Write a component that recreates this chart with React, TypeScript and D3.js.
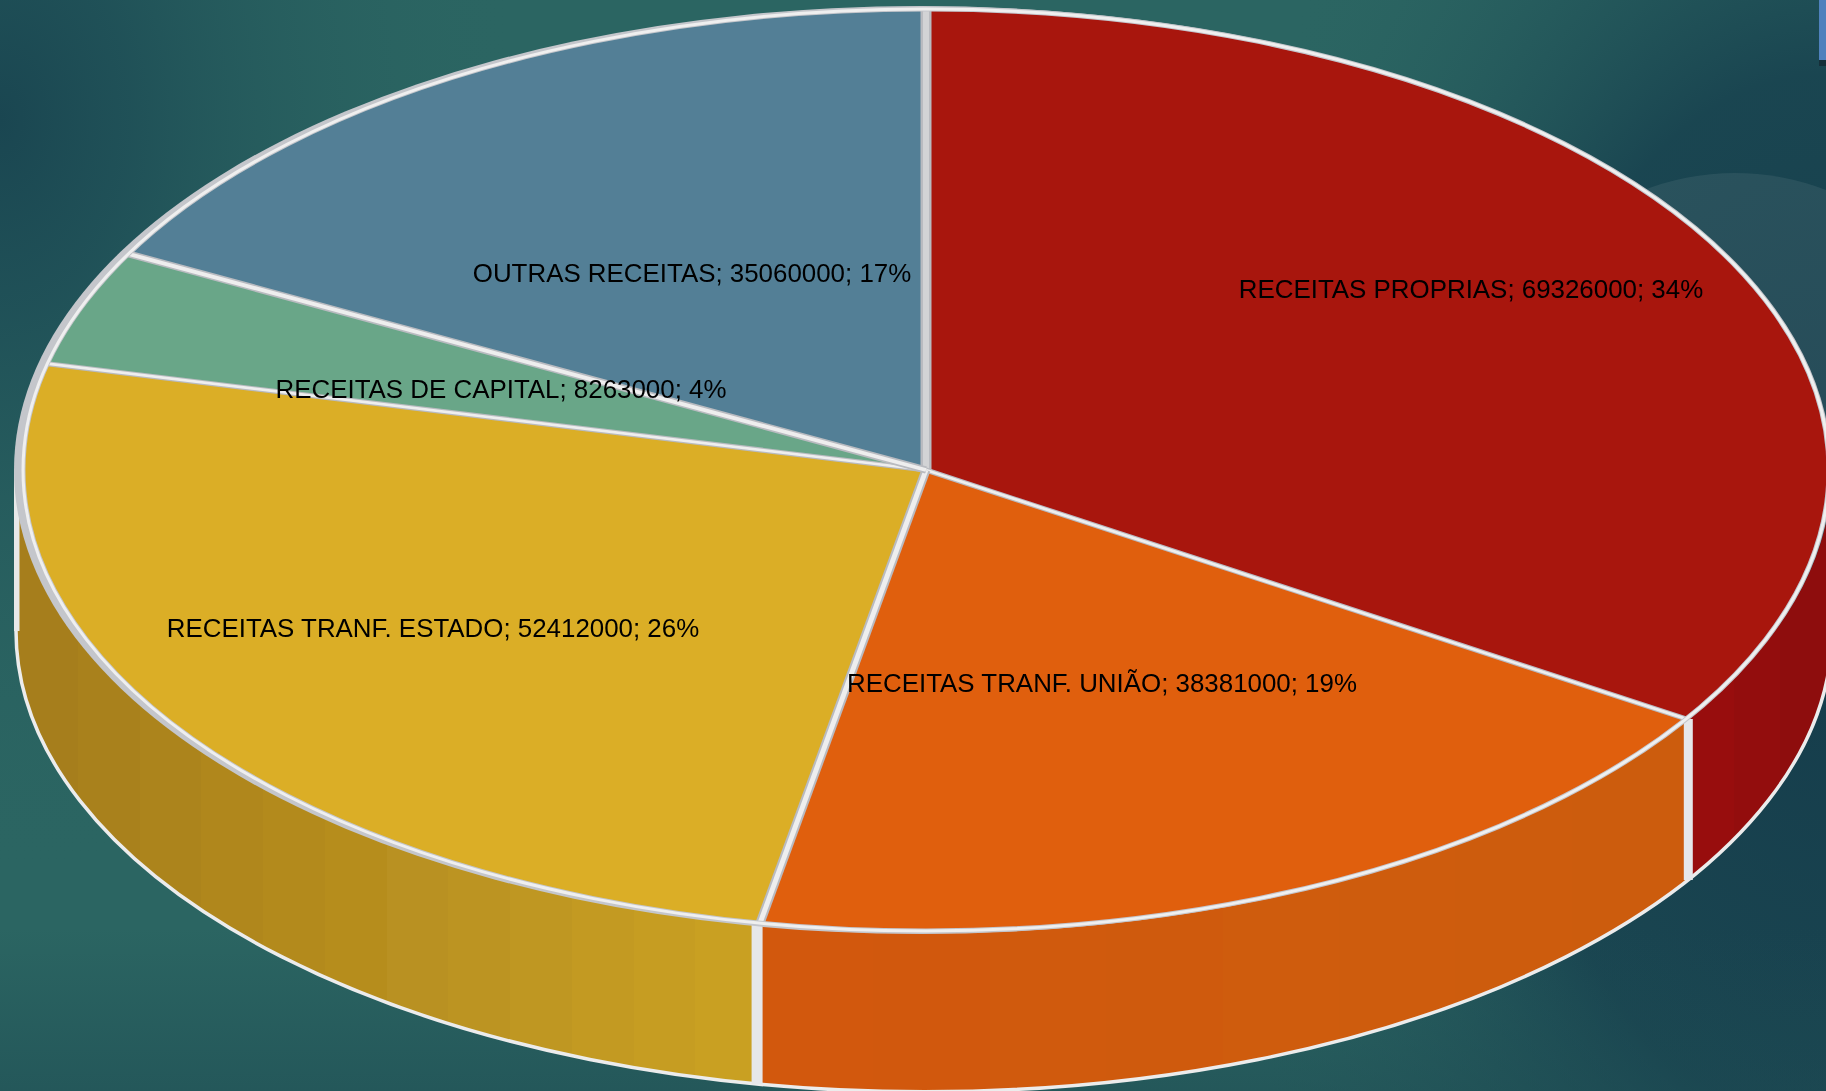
import React from "react";
import * as d3 from "d3";

const categories = [
  "RECEITAS PROPRIAS",
  "RECEITAS TRANF. UNIÃO",
  "RECEITAS TRANF. ESTADO",
  "RECEITAS DE CAPITAL",
  "OUTRAS RECEITAS",
];
const values = [69326000, 38381000, 52412000, 8263000, 35060000];
const percents = [34, 19, 26, 4, 17];
const topColors = ["#a8120f", "#e05e10", "#dbae26", "#69a688", "#527f96"];
const wallColors = [
  ["#98100f", "#8e0e0e"],
  ["#d2590c", "#cc5c0f"],
  ["#a67e1b", "#c9a024"],
];
const wallBands = [3, 8, 12];

const width = 1826;
const height = 1091;

// top face ellipse
const cx = 926;
const cy = 470;
const rx = 903;
const ry = 461;
// the side walls sit on a slightly wider ellipse than the top face
const wallCx = 924;
const wallRx = 908;
const depth = 161;

// label centers and border widths, same order as categories
const labelX = [1471, 1102, 433, 501, 692];
const labelY = [289, 683, 628, 389, 273];
const borderW = [11, 5, 9, 5, 7];

const pieLayout = d3
  .pie<number>()
  .sort(null)
  .startAngle(0)
  .endAngle(2 * Math.PI);

const px = (a: number) => cx + rx * Math.sin(a);
const py = (a: number) => cy - ry * Math.cos(a);
const wx = (a: number) => wallCx + wallRx * Math.sin(a);
const wy = (a: number, dy = 0) => cy - ry * Math.cos(a) + dy;

function wallPath(a0: number, a1: number) {
  const large = a1 - a0 > Math.PI ? 1 : 0;
  return (
    `M${wx(a0)},${wy(a0)}A${wallRx},${ry} 0 ${large} 1 ${wx(a1)},${wy(a1)}` +
    `L${wx(a1)},${wy(a1, depth)}A${wallRx},${ry} 0 ${large} 0 ${wx(a0)},${wy(a0, depth)}Z`
  );
}

function wallEdge(a0: number, a1: number) {
  return `M${wx(a0)},${wy(a0, depth)}A${wallRx},${ry} 0 0 1 ${wx(a1)},${wy(a1, depth)}`;
}

// hard-edged stops, the walls are shaded in visible vertical bands
function bandStops(c0: string, c1: string, n: number) {
  const color = d3.interpolateRgb(c0, c1);
  return d3.range(n).flatMap((k) => [
    <stop key={`${k}a`} offset={k / n} stopColor={color(k / (n - 1))} />,
    <stop key={`${k}b`} offset={(k + 1) / n} stopColor={color(k / (n - 1))} />,
  ]);
}

export default function App() {
  const slices = pieLayout(values);

  const arc = d3
    .arc<d3.PieArcDatum<number>>()
    .innerRadius(0)
    .outerRadius(rx);

  // only the front half of the rim shows a wall
  const front0 = Math.PI / 2;
  const front1 = (3 * Math.PI) / 2;
  const walls = slices
    .map((s, i) => ({
      i,
      a0: Math.max(s.startAngle, front0),
      a1: Math.min(s.endAngle, front1),
    }))
    .filter((w) => w.a1 > w.a0);

  return (
    <svg
      width={width}
      height={height}
      viewBox={`0 0 ${width} ${height}`}
      style={{ position: "absolute", left: 0, top: 0, display: "block" }}
    >
      <defs>
        <radialGradient id="bgLeft" gradientUnits="userSpaceOnUse" cx="0" cy="0" r="1"
          gradientTransform="translate(0,120) scale(520,760)">
          <stop offset="0" stopColor="#1a4651" />
          <stop offset="0.25" stopColor="#1d4c55" stopOpacity="0.8" />
          <stop offset="1" stopColor="#2b6562" stopOpacity="0" />
        </radialGradient>
        <radialGradient id="bgRight" gradientUnits="userSpaceOnUse" cx="0" cy="0" r="1"
          gradientTransform="translate(1826,600) scale(640,1050)">
          <stop offset="0" stopColor="#153c4b" />
          <stop offset="0.5" stopColor="#18424f" stopOpacity="0.9" />
          <stop offset="1" stopColor="#2b6562" stopOpacity="0" />
        </radialGradient>
        <linearGradient id="bgBottom" x1="0" y1="0" x2="0" y2="1">
          <stop offset="0.85" stopColor="#1d4a52" stopOpacity="0" />
          <stop offset="1" stopColor="#1d4a52" stopOpacity="0.5" />
        </linearGradient>
        <linearGradient id="wall0" gradientUnits="userSpaceOnUse" x1="1688" x2="1826" y1="0" y2="0">
          {bandStops(wallColors[0][0], wallColors[0][1], wallBands[0])}
        </linearGradient>
        <linearGradient id="wall1" gradientUnits="userSpaceOnUse" x1="757" x2="1688" y1="0" y2="0">
          {bandStops(wallColors[1][0], wallColors[1][1], wallBands[1])}
        </linearGradient>
        <linearGradient id="wall2" gradientUnits="userSpaceOnUse" x1="16" x2="757" y1="0" y2="0">
          {bandStops(wallColors[2][0], wallColors[2][1], wallBands[2])}
        </linearGradient>
        <filter id="soft" x="0" y="0" width="1" height="1">
          <feGaussianBlur stdDeviation="0.5" />
        </filter>
      </defs>

      <rect width={width} height={height} fill="#2b6562" />
      <rect width={width} height={height} fill="url(#bgLeft)" />
      <rect width={width} height={height} fill="url(#bgRight)" />
      <rect width={width} height={height} fill="url(#bgBottom)" />
      <ellipse cx={1735} cy={420} rx={250} ry={247} fill="#ffffff" opacity={0.07} />
      <rect x={1819} y={0} width={7} height={66} fill="#16303a" />
      <rect x={1819} y={0} width={7} height={60} fill="#4f81bd" />

      <g filter="url(#soft)">
        {/* side walls */}
        {walls.map((w) => (
          <path key={w.i} d={wallPath(w.a0, w.a1)} fill={`url(#wall${w.i})`} />
        ))}
        <path d={wallEdge(front0, front1)} fill="none" stroke="#ececec" strokeWidth={3.5} />
        <path
          d={`M${wx(front1)},${wy(front1)}V${wy(front1, depth)}`}
          stroke="#e8e8e8"
          strokeWidth={7}
        />
        {walls.slice(1).map((w) => (
          <path
            key={w.i}
            d={`M${wx(w.a0)},${wy(w.a0)}V${wy(w.a0, depth)}`}
            stroke="#e6e7ea"
            strokeWidth={w.i === 1 ? 9 : 11}
          />
        ))}

        {/* rim backing: shows thick on the left, thin on the right */}
        <ellipse cx={921} cy={cy} rx={907} ry={ry + 3} fill="#c4c6cb" />

        {/* top face */}
        <g transform={`translate(${cx},${cy}) scale(1,${ry / rx})`}>
          {slices.map((s, i) => (
            <path key={i} d={arc(s) as string} fill={topColors[i]} />
          ))}
        </g>

        {/* slice borders */}
        {slices.map((s, i) => (
          <g key={i}>
            <path
              d={`M${cx},${cy}L${px(s.startAngle)},${py(s.startAngle)}`}
              stroke="#b9bbc0"
              strokeWidth={borderW[i]}
            />
            <path
              d={`M${cx},${cy}L${px(s.startAngle)},${py(s.startAngle)}`}
              stroke={i === 0 ? "#d2d3d5" : "#eeeeee"}
              strokeWidth={borderW[i] * 0.55}
            />
          </g>
        ))}
        <ellipse cx={cx} cy={cy} rx={rx} ry={ry} fill="none" stroke="#c4c6cb" strokeWidth={5} />
        <ellipse cx={cx} cy={cy} rx={rx} ry={ry} fill="none" stroke="#efefef" strokeWidth={3} />

        {/* data labels */}
        {categories.map((c, i) => (
          <text
            key={c}
            x={labelX[i]}
            y={labelY[i]}
            textAnchor="middle"
            dominantBaseline="central"
            fontFamily="'Liberation Sans', Arial, sans-serif"
            fontSize={25.9}
            fill="#000000"
          >
            {`${c}; ${values[i]}; ${percents[i]}%`}
          </text>
        ))}
      </g>
    </svg>
  );
}
